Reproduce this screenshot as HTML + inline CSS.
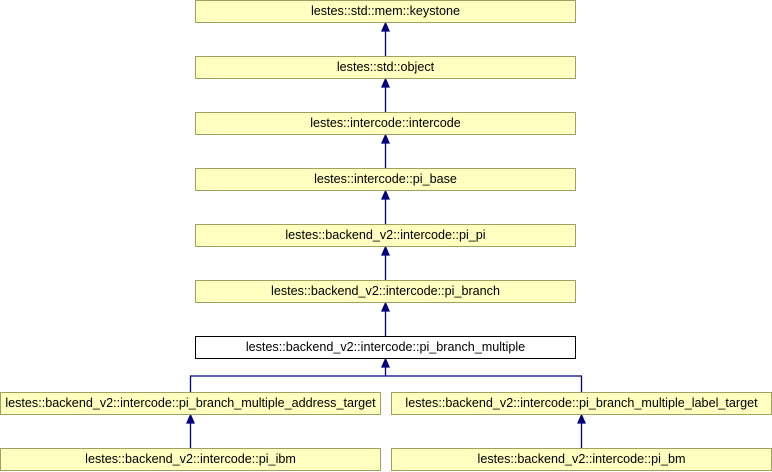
<!DOCTYPE html>
<html><head><style>
body{margin:0;width:772px;height:472px;background:#fff;overflow:hidden;position:relative;font-family:"Liberation Sans",Arial,sans-serif;}
.b{position:absolute;height:21px;border:1px solid #a0a060;background:#ffffc0;font-size:12.6px;line-height:21px;text-align:center;color:#000;white-space:nowrap;}
.w{background:#fff;border-color:#000;}
</style></head><body>
<svg width="772" height="472" style="position:absolute;left:0;top:0">
<g stroke="#000080" stroke-width="1.3" fill="#000080">
<line x1="385.5" y1="56" x2="385.5" y2="27"/><polygon points="385.5,23 382,31 389,31"/>
<line x1="385.5" y1="112" x2="385.5" y2="83"/><polygon points="385.5,79 382,87 389,87"/>
<line x1="385.5" y1="168" x2="385.5" y2="139"/><polygon points="385.5,135 382,143 389,143"/>
<line x1="385.5" y1="224" x2="385.5" y2="195"/><polygon points="385.5,191 382,199 389,199"/>
<line x1="385.5" y1="280" x2="385.5" y2="251"/><polygon points="385.5,247 382,255 389,255"/>
<line x1="385.5" y1="336" x2="385.5" y2="307"/><polygon points="385.5,303 382,311 389,311"/>
<line x1="385.5" y1="376" x2="385.5" y2="363"/><polygon points="385.5,359 382,367 389,367"/>
<polyline fill="none" points="190.5,392 190.5,376 581.5,376 581.5,392"/>
<line x1="190.5" y1="448" x2="190.5" y2="419"/><polygon points="190.5,415 187,423 194,423"/>
<line x1="581.5" y1="448" x2="581.5" y2="419"/><polygon points="581.5,415 578,423 585,423"/>
</g></svg>
<div class="b" style="left:195px;top:0;width:379px">lestes::std::mem::keystone</div>
<div class="b" style="left:195px;top:56px;width:379px">lestes::std::object</div>
<div class="b" style="left:195px;top:112px;width:379px">lestes::intercode::intercode</div>
<div class="b" style="left:195px;top:168px;width:379px">lestes::intercode::pi_base</div>
<div class="b" style="left:195px;top:224px;width:379px">lestes::backend_v2::intercode::pi_pi</div>
<div class="b" style="left:195px;top:280px;width:379px">lestes::backend_v2::intercode::pi_branch</div>
<div class="b w" style="left:195px;top:336px;width:379px">lestes::backend_v2::intercode::pi_branch_multiple</div>
<div class="b" style="left:0;top:392px;width:379px">lestes::backend_v2::intercode::pi_branch_multiple_address_target</div>
<div class="b" style="left:391px;top:392px;width:379px">lestes::backend_v2::intercode::pi_branch_multiple_label_target</div>
<div class="b" style="left:0;top:448px;width:379px">lestes::backend_v2::intercode::pi_ibm</div>
<div class="b" style="left:391px;top:448px;width:379px">lestes::backend_v2::intercode::pi_bm</div>
</body></html>
